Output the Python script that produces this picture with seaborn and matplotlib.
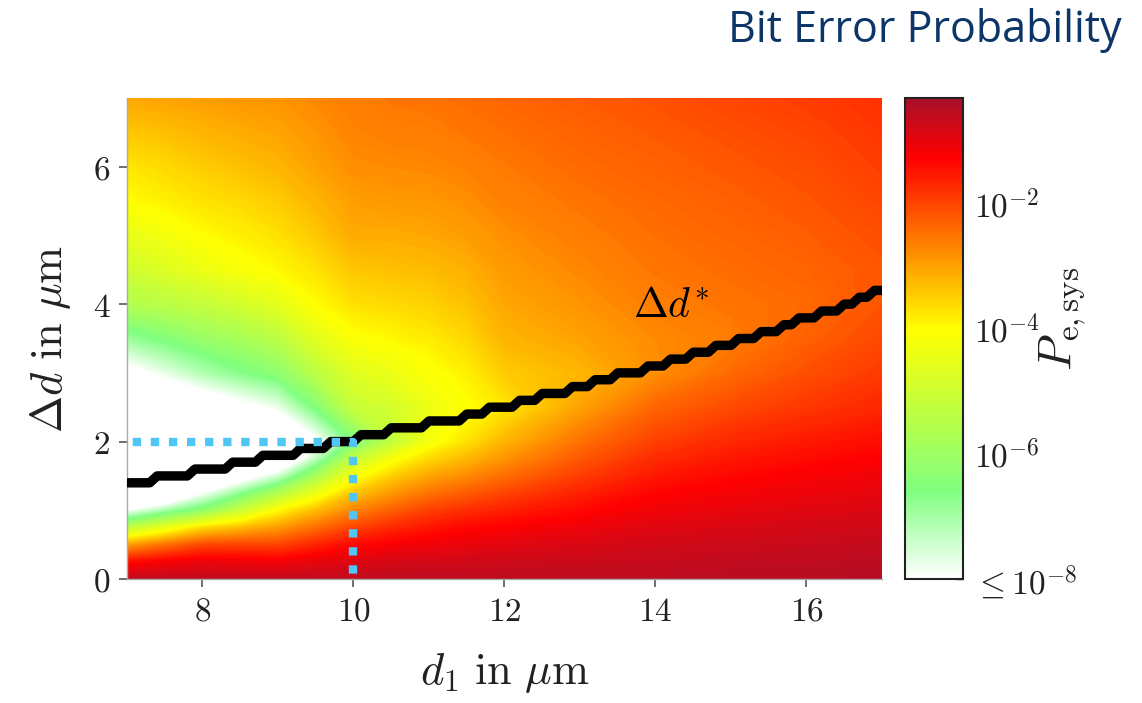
import numpy as np
import matplotlib
matplotlib.use("Agg")
import matplotlib.pyplot as plt
import seaborn as sns
from matplotlib.colors import LinearSegmentedColormap, Normalize
from matplotlib.cm import ScalarMappable
from matplotlib.ticker import FixedLocator

# ---------------------------------------------------------------------------
# Data
# ---------------------------------------------------------------------------
# sampling grid of the error map (d1 and delta-d in micrometres)
D1_GRID = [7.0, 7.5, 8.0, 8.5, 9.0, 9.5, 10.0, 10.5, 11.0, 11.5, 12.0,
           13.0, 14.0, 15.0, 16.0, 17.0]
DELTA_D_GRID = [0.0, 0.25, 0.5, 0.75, 1.0, 1.25, 1.5, 1.75, 2.0, 2.5, 3.0,
                3.5, 4.0, 4.5, 5.0, 5.5, 6.0, 6.5, 7.0]

# log10(P_e,sys): one list per d1 column, from delta-d = 0 up to delta-d = 7
LOG_PE_D1_7_0 = [-0.60, -1.40, -3.00, -5.30, -8.00, -11.5, -13.0, -12.3, -11.5, -10.0,
                 -8.35, -6.90, -5.60, -5.00, -4.50, -4.00, -3.75, -3.40, -3.05]
LOG_PE_D1_7_5 = [-0.60, -1.20, -2.50, -4.45, -7.10, -9.70, -12.5, -11.8, -11.0, -9.40,
                 -7.75, -6.50, -5.40, -4.70, -4.25, -3.85, -3.60, -3.33, -3.00]
LOG_PE_D1_8_0 = [-0.60, -1.05, -2.05, -3.65, -6.30, -8.00, -10.0, -11.2, -10.4, -8.80,
                 -7.15, -6.10, -5.20, -4.40, -4.00, -3.70, -3.45, -3.20, -2.95]
LOG_PE_D1_8_5 = [-0.60, -1.10, -2.00, -3.30, -5.10, -6.80, -8.60, -10.3, -10.0, -8.30,
                 -6.70, -5.80, -4.90, -4.15, -3.85, -3.60, -3.33, -3.10, -2.88]
LOG_PE_D1_9_0 = [-0.60, -1.15, -2.00, -2.95, -4.00, -5.60, -7.50, -9.50, -9.60, -7.80,
                 -6.30, -5.40, -4.55, -3.95, -3.68, -3.45, -3.20, -3.03, -2.85]
LOG_PE_D1_9_5 = [-0.60, -1.00, -1.65, -2.45, -3.30, -4.40, -5.80, -7.30, -8.20, -6.50,
                 -5.40, -4.60, -4.00, -3.70, -3.42, -3.20, -3.00, -2.85, -2.72]
LOG_PE_D1_10_0 = [-0.60, -0.90, -1.35, -2.00, -2.70, -3.40, -4.20, -5.25, -6.60, -5.15,
                  -4.65, -4.10, -3.68, -3.40, -3.10, -2.95, -2.78, -2.68, -2.60]
LOG_PE_D1_10_5 = [-0.55, -0.80, -1.20, -1.70, -2.30, -2.90, -3.50, -4.20, -5.30, -4.90,
                  -4.40, -3.95, -3.60, -3.33, -3.10, -2.90, -2.75, -2.62, -2.52]
LOG_PE_D1_11_0 = [-0.55, -0.78, -1.10, -1.50, -1.95, -2.50, -3.05, -3.60, -4.20, -4.40,
                  -4.10, -3.80, -3.52, -3.28, -3.05, -2.88, -2.72, -2.60, -2.48]
LOG_PE_D1_11_5 = [-0.55, -0.75, -1.02, -1.32, -1.75, -2.25, -2.75, -3.25, -3.70, -4.05,
                  -3.85, -3.58, -3.35, -3.15, -2.95, -2.80, -2.65, -2.52, -2.42]
LOG_PE_D1_12 = [-0.55, -0.72, -0.95, -1.25, -1.60, -2.00, -2.45, -2.85, -3.20, -3.75,
                -3.45, -3.20, -3.05, -2.92, -2.80, -2.65, -2.55, -2.45, -2.35]
LOG_PE_D1_13 = [-0.55, -0.68, -0.85, -1.08, -1.35, -1.62, -1.92, -2.20, -2.48, -3.00,
                -3.22, -3.00, -2.85, -2.72, -2.60, -2.50, -2.40, -2.32, -2.23]
LOG_PE_D1_14 = [-0.55, -0.65, -0.75, -0.92, -1.10, -1.28, -1.50, -1.72, -1.94, -2.35,
                -2.80, -2.75, -2.62, -2.52, -2.45, -2.38, -2.30, -2.22, -2.12]
LOG_PE_D1_15 = [-0.50, -0.60, -0.70, -0.85, -1.00, -1.16, -1.33, -1.50, -1.68, -2.05,
                -2.40, -2.60, -2.50, -2.42, -2.35, -2.28, -2.20, -2.10, -2.00]
LOG_PE_D1_16 = [-0.48, -0.57, -0.66, -0.78, -0.92, -1.06, -1.20, -1.36, -1.52, -1.85,
                -2.10, -2.30, -2.40, -2.33, -2.25, -2.17, -2.08, -2.00, -1.90]
LOG_PE_D1_17 = [-0.45, -0.53, -0.62, -0.73, -0.85, -0.98, -1.10, -1.24, -1.38, -1.68,
                -1.88, -2.03, -2.15, -2.18, -2.10, -2.00, -1.92, -1.85, -1.78]

# optimal spacing delta-d* on the d1 grid 7.0, 7.1, ..., 17.0:
# each level (0.1 um resolution) and the number of consecutive d1 samples it holds
OPT_LEVELS = [1.4, 1.5, 1.6, 1.7, 1.8, 1.9, 2.0, 2.1, 2.2, 2.3, 2.4, 2.5, 2.6, 2.7,
              2.8, 2.9, 3.0, 3.1, 3.2, 3.3, 3.4, 3.5, 3.6, 3.7, 3.8, 3.9, 4.0, 4.1, 4.2]
OPT_RUNS = [4, 5, 5, 4, 5, 4, 4, 4, 5, 5, 3, 4, 3, 4, 3, 3, 4, 3, 3, 3, 3, 3, 3, 2,
            3, 3, 2, 2, 2]
OPT_D1_FIRST, OPT_D1_LAST = 7.0, 17.0

# highlighted operating point
MARK_D1 = 10.0
MARK_DELTA_D = 2.0

# colour scale limits (log10 of the probability)
LOG_PE_MIN, LOG_PE_MAX = -8.0, -0.3
CBAR_TICKS = [-8, -6, -4, -2]
CBAR_TICKLABELS = [r"$\leq 10^{-8}$", r"$10^{-6}$", r"$10^{-4}$", r"$10^{-2}$"]
X_TICKS = [8, 10, 12, 14, 16]
Y_TICKS = [0, 2, 4, 6]

# ---------------------------------------------------------------------------
# Style
# ---------------------------------------------------------------------------
sns.set_theme(style="white")
plt.rcParams.update({
    "font.family": ["DejaVu Serif"],
    "mathtext.fontset": "cm",
    "axes.unicode_minus": True,
})
TEXT = "#222222"

fig = plt.figure(figsize=(11.42, 7.03), dpi=100)
W, H = 1142, 703
ax = fig.add_axes([127 / W, 1 - 579 / H, 755 / W, 481 / H])
cax = fig.add_axes([905 / W, 1 - 579 / H, 58 / W, 481 / H])

cmap = LinearSegmentedColormap.from_list(
    "pe_sys",
    [(0.0, "#ffffff"), (0.1818, "#80ff80"), (0.5195, "#ffff00"),
     (0.8766, "#ff0000"), (1.0, "#a8102a")],
)
cmap.set_under("#ffffff")
cmap.set_over("#a8102a")
norm = Normalize(vmin=LOG_PE_MIN, vmax=LOG_PE_MAX)

# ---------------------------------------------------------------------------
# Error map
# ---------------------------------------------------------------------------
log_pe = np.array([
    LOG_PE_D1_7_0, LOG_PE_D1_7_5, LOG_PE_D1_8_0, LOG_PE_D1_8_5, LOG_PE_D1_9_0,
    LOG_PE_D1_9_5, LOG_PE_D1_10_0, LOG_PE_D1_10_5, LOG_PE_D1_11_0, LOG_PE_D1_11_5,
    LOG_PE_D1_12, LOG_PE_D1_13, LOG_PE_D1_14, LOG_PE_D1_15, LOG_PE_D1_16,
    LOG_PE_D1_17,
]).T

ax.contourf(D1_GRID, DELTA_D_GRID, log_pe,
            levels=np.linspace(LOG_PE_MIN, LOG_PE_MAX, 180),
            cmap=cmap, norm=norm, extend="both", zorder=1)

# optimal delta-d* curve
opt_d1 = np.linspace(OPT_D1_FIRST, OPT_D1_LAST, sum(OPT_RUNS))
opt_dd = np.repeat(OPT_LEVELS, OPT_RUNS)
sns.lineplot(x=opt_d1, y=opt_dd, color="black", linewidth=6.8, ax=ax,
             zorder=3, legend=False)
ax.text(14.2, 3.82, r"$\Delta d^{*}$", fontsize=30, ha="center",
        va="baseline", color="black", zorder=5)

# dotted guide to the operating point
ax.plot([OPT_D1_FIRST, MARK_D1, MARK_D1], [MARK_DELTA_D, MARK_DELTA_D, 0.0],
        color="#4ec6f6", linewidth=6.0, dash_capstyle="butt",
        linestyle=(1.48, (1.0, 1.17)), zorder=4, solid_joinstyle="miter")

ax.set_xlim(7, 17)
ax.set_ylim(0, 7)
ax.set_xticks(X_TICKS)
ax.set_xticklabels([f"${t}$" for t in X_TICKS])
ax.set_yticks(Y_TICKS)
ax.set_yticklabels([f"${t}$" for t in Y_TICKS])
ax.tick_params(axis="both", direction="out", length=6, width=1.2,
               color="#555555", labelsize=24, labelcolor=TEXT, pad=6,
               bottom=True, left=True)
for side, spine in ax.spines.items():
    spine.set_color("#aaaaaa")
    spine.set_linewidth(1.0)
    spine.set_visible(side in ("left", "bottom"))

ax.set_xlabel(r"$d_1\ \mathrm{in}\ \mu\mathrm{m}$", fontsize=32, color=TEXT,
              labelpad=17)
ax.set_ylabel(r"$\Delta d\ \mathrm{in}\ \mu\mathrm{m}$", fontsize=32,
              color=TEXT, labelpad=14)

# ---------------------------------------------------------------------------
# Colour bar
# ---------------------------------------------------------------------------
sm = ScalarMappable(norm=norm, cmap=cmap)
cb = fig.colorbar(sm, cax=cax)
cb.set_ticks(CBAR_TICKS, labels=CBAR_TICKLABELS)
minor = [np.log10(k) + e for e in range(-8, 0) for k in range(2, 10)
         if np.log10(k) + e < LOG_PE_MAX]
cb.ax.yaxis.set_minor_locator(FixedLocator(minor))
cb.ax.tick_params(which="major", direction="in", length=5, width=1.0,
                  color="#333333", labelsize=24, labelcolor=TEXT, pad=8)
cb.ax.tick_params(which="minor", direction="in", length=2.5, width=0.8,
                  color="#333333")
cb.outline.set_edgecolor("#222222")
cb.outline.set_linewidth(1.5)

fig.text(1062 / W, 1 - 319 / H, r"$P_{\mathrm{e,sys}}$", rotation=90,
         fontsize=34, ha="center", va="center", color=TEXT)

fig.text(1122 / W, 1 - 42 / H, "Bit Error Probability", ha="right",
         va="baseline", fontsize=31, color="#0c3668", family="Open Sans")

fig.savefig("out.png", dpi=100, facecolor="white")
